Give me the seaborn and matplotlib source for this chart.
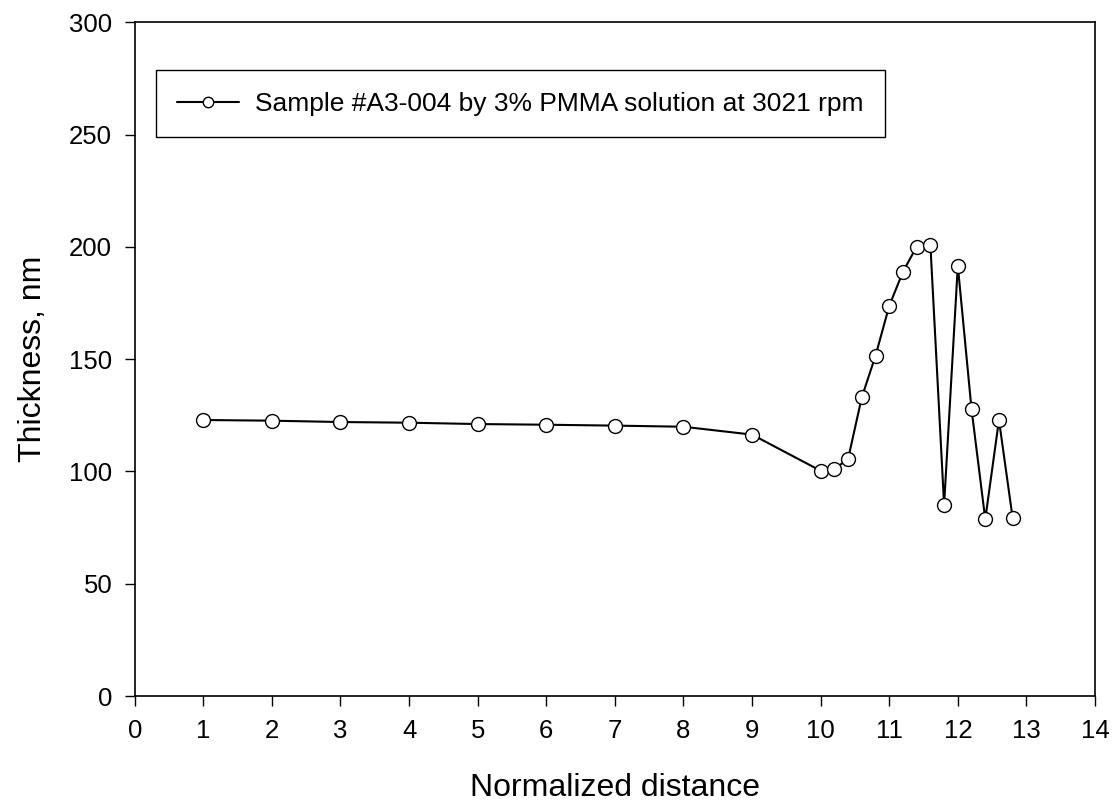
import matplotlib
matplotlib.use("Agg")
import matplotlib.pyplot as plt
import seaborn as sns
import pandas as pd

distance = [1, 2, 3, 4, 5, 6, 7, 8, 9, 10, 10.2, 10.4, 10.6, 10.8, 11.0, 11.2,
            11.4, 11.6, 11.8, 12.0, 12.2, 12.4, 12.6, 12.8]
thickness = [122.9, 122.6, 122.0, 121.7, 121.1, 120.8, 120.4, 119.9, 116.4,
             100.3, 101.1, 105.5, 133.0, 151.5, 173.7, 188.9, 200.1, 201.0,
             85.1, 191.6, 127.7, 78.7, 122.9, 79.1]
series_label = "Sample #A3-004 by 3% PMMA solution at 3021 rpm"
x_ticks = list(range(0, 15))
y_ticks = [0, 50, 100, 150, 200, 250, 300]

sns.set_style("ticks")
plt.rcParams['font.family'] = ['Liberation Sans', 'DejaVu Sans']
plt.rcParams['text.color'] = 'black'
plt.rcParams['axes.labelcolor'] = 'black'

df = pd.DataFrame({"distance": distance, "thickness": thickness})

fig = plt.figure(figsize=(11.15, 8.10), dpi=100)
W, H = 1115, 810
ax = fig.add_axes([134.7 / W, 1 - 696 / H, (1095 - 134.7) / W, (696 - 22.3) / H])

sns.lineplot(data=df, x="distance", y="thickness", ax=ax, color="black",
             linewidth=1.5, marker="o", markersize=10, markerfacecolor="white",
             markeredgecolor="black", markeredgewidth=1.0, label=series_label)

ax.set_xlim(0, 14)
ax.set_ylim(0, 300)
ax.set_xticks(x_ticks)
ax.set_yticks(y_ticks)
ax.tick_params(axis="both", direction="out", length=7.2, width=1.0,
               labelsize=18.5, colors="black", labelcolor="black",
               top=False, right=False, pad=9)
for s in ax.spines.values():
    s.set_visible(True)
    s.set_color("black")
    s.set_linewidth(1.2)

ax.set_xlabel("Normalized distance", fontsize=23, labelpad=22, color="black")
ax.set_ylabel("Thickness, nm", fontsize=23, labelpad=15, color="black")

leg = ax.legend(loc="upper left", bbox_to_anchor=(0.022, 0.929), fontsize=19,
                frameon=True, fancybox=False, shadow=False, handlelength=2.35,
                borderpad=0.82, handletextpad=0.57, borderaxespad=0)
leg.get_frame().set_edgecolor("black")
leg.get_frame().set_linewidth(1.0)
leg.get_frame().set_alpha(1)
for h in leg.legend_handles:
    h.set_markersize(7.5)
for t in leg.get_texts():
    t.set_color("black")

fig.savefig("out.png", dpi=100)
